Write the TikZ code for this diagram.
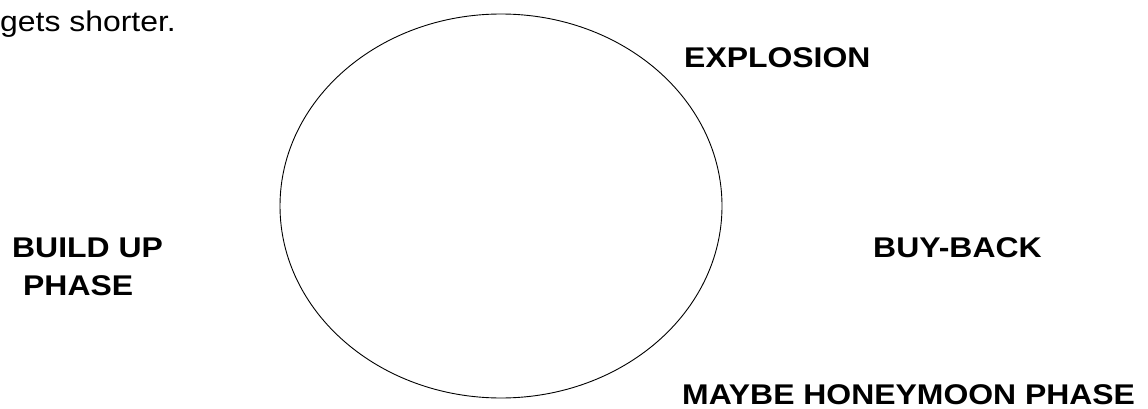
\documentclass[tikz,border=0pt]{standalone}
\usepackage{fontspec}
\setmainfont{Liberation Sans}
\usepackage{graphicx}
\newcommand{\widetext}[1]{\scalebox{1.12}[1]{#1}}
\begin{document}
\begin{tikzpicture}[x=1pt,y=-1pt,
  lbl/.style={anchor=base west,inner sep=0pt,font=\fontsize{28.5}{32}\selectfont\bfseries},
  body/.style={anchor=base west,inner sep=0pt,font=\fontsize{28.5}{32}\selectfont}]
\useasboundingbox (0,0) rectangle (1148,409);
\draw[line width=0.9pt] (501,206) ellipse [x radius=221, y radius=192];
\node[body] (top) at (0,32) {\widetext{gets shorter.}};
\node[lbl] (expl) at (684,68) {\widetext{EXPLOSION}};
\node[lbl] (build) at (12,257) {\widetext{BUILD UP}};
\node[lbl] (phase) at (23,295) {\widetext{PHASE}};
\node[lbl] (buy) at (873,257) {\widetext{BUY-BACK}};
\node[lbl] (honey) at (682,404) {\widetext{MAYBE HONEYMOON PHASE}};
\end{tikzpicture}
\end{document}
